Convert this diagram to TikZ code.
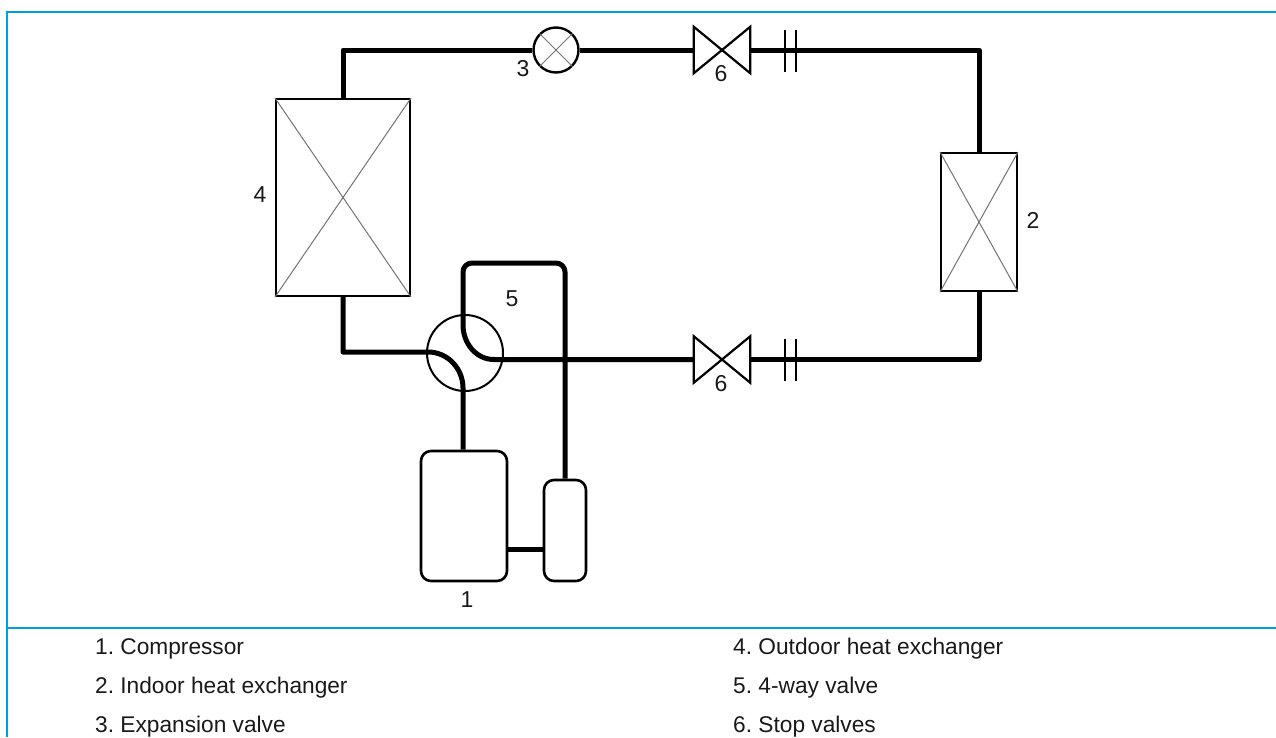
\documentclass[tikz,border=0pt]{standalone}
\usepackage{fontspec}
\setmainfont{Liberation Sans}
\frenchspacing
\usetikzlibrary{positioning}
\definecolor{framecol}{HTML}{00A0E0}
\tikzstyle{pipe} = [line width=5pt,line join=round]
\tikzstyle{hx} = [rectangle,draw=black,line width=2pt,inner sep=0pt]
\tikzstyle{cross} = [line width=1pt,draw=black!55]
\tikzstyle{tank} = [rectangle,rounded corners=10pt,draw=black,line width=2.6pt,fill=white,inner sep=0pt]
\tikzstyle{valve} = [rectangle,minimum width=56pt,minimum height=46pt,inner sep=0pt]
\tikzstyle{bar} = [line width=2.2pt]
\tikzstyle{num} = [font=\fontsize{23}{26}\selectfont,inner sep=0pt,text=black!90]
\tikzstyle{legend} = [font=\fontsize{22.7}{26}\selectfont,inner sep=0pt,anchor=base west,text=black!90]

\begin{document}
\begin{tikzpicture}[x=1pt,y=-1pt]
\useasboundingbox (0,0) rectangle (1276,737);

% frame
\coordinate (frameTL) at (7,12);
\coordinate (frameTR) at (1276,12);
\coordinate (frameBL) at (7,737);
\coordinate (divL) at (7,628);
\coordinate (divR) at (1276,628);
\draw[framecol,line width=2.8pt] (frameTR) -- (frameTL) -- (frameBL);
\draw[framecol,line width=2.8pt] (divL) -- (divR);

\node (outdoor) [hx,minimum width=134pt,minimum height=197pt] at (343,197.5) {};
\node (indoor) [hx,minimum width=76pt,minimum height=138pt] at (979,222) {};
\node (expansion) [circle,draw=black,line width=2.4pt,minimum size=45pt,inner sep=0pt] at (556,50) {};
\node (stopTop) [valve] at (722,50) {};
\node (stopBot) [valve] at (722,359.5) {};
\node (fourway) [circle,draw=black,line width=2pt,minimum size=76pt,inner sep=0pt] at (465,353) {};
\node (compressor) [tank,minimum width=86pt,minimum height=130pt] at (464,516) {};
\node (accum) [tank,minimum width=42pt,minimum height=101pt] at (565,530.5) {};

% crosses
\draw[cross] (outdoor.north west) -- (outdoor.south east);
\draw[cross] (outdoor.north east) -- (outdoor.south west);
\draw[cross] (indoor.north west) -- (indoor.south east);
\draw[cross] (indoor.north east) -- (indoor.south west);
\draw[cross] (expansion.north west) -- (expansion.south east);
\draw[cross] (expansion.north east) -- (expansion.south west);

% stop valves
\foreach \v in {stopTop,stopBot}
  \draw[line width=2.2pt,line join=miter] (\v.north west) -- (\v.south east) -- (\v.north east) -- (\v.south west) -- cycle;

% couplings
\coordinate (cplA) at (785,51);
\coordinate (cplB) at (796,51);
\coordinate (cplC) at (785,360);
\coordinate (cplD) at (796,360);
\foreach \c in {cplA,cplB,cplC,cplD}
  \draw[bar] ([yshift=-21pt]\c) -- ([yshift=21pt]\c);

% pipes
\coordinate (upperIn) at (463,325);
\coordinate (upperOut) at (494,359.5);
\coordinate (lowerIn) at (428,352);
\coordinate (lowerOut) at (463,388);
\coordinate (loopL) at (463,263);
\coordinate (loopR) at (564,263);

\draw[pipe] (outdoor.north) |- (expansion.west);
\draw[pipe] (expansion.east) -- (stopTop.west);
\draw[pipe] (stopTop.east) -| (indoor.north);
\draw[pipe] (indoor.south) |- (stopBot.east);
\draw[pipe] (outdoor.south) |- (lowerIn) to[out=0,in=90] (lowerOut) -- (lowerOut |- compressor.north);
\draw[pipe,rounded corners=9pt] (accum.north) -- (accum.north |- loopR) -- (loopL) -- (upperIn);
\draw[pipe] (upperIn) to[out=-90,in=180] (upperOut) -- (stopBot.west);
\draw[pipe] (compressor.east |- 0,549) -- (accum.west |- 0,549);

\node (lab3) [num] at (523,69) {3};
\node (lab6a) [num] at (721,74) {6};
\node (lab6b) [num] at (721,384) {6};
\node (lab4) [num] at (260,195) {4};
\node (lab2) [num] at (1033,220) {2};
\node (lab5) [num] at (512,299) {5};
\node (lab1) [num] at (467,600) {1};

\node (leg1) [legend] at (95,654) {1. Compressor};
\node (leg2) [legend] at (95,693.5) {2. Indoor heat exchanger};
\node (leg3) [legend] at (95,732) {3. Expansion valve};
\node (leg4) [legend] at (733,654) {4. Outdoor heat exchanger};
\node (leg5) [legend] at (733,693.5) {5. 4-way valve};
\node (leg6) [legend] at (733,732) {6. Stop valves};

\end{tikzpicture}
\end{document}
